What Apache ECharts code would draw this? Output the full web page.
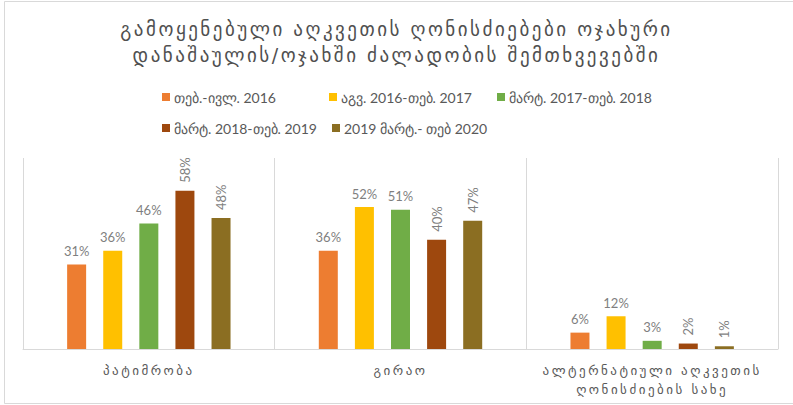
<!DOCTYPE html>
<html>
<head>
<meta charset="utf-8">
<script src="https://cdn.jsdelivr.net/npm/echarts@6/dist/echarts.min.js"></script>
<style>
  html, body { margin: 0; padding: 0; background: #fff; }
  #chart { width: 793px; height: 405px; }
  /* wider tracking for the Georgian title and category names */
  #chart svg text[style*="DejaVu"] { letter-spacing: 2.5px; }
</style>
</head>
<body>
<div id="chart"></div>
<script>
// Measures of restraint applied in domestic crime / domestic violence cases
const titleText = 'გამოყენებული აღკვეთის ღონისძიებები ოჯახური\nდანაშაულის/ოჯახში ძალადობის შემთხვევებში';
const categories = ['პატიმრობა', 'გირაო', 'ალტერნატიული აღკვეთის\nღონისძიების სახე'];
const seriesNames = [
  'თებ.-ივლ. 2016',
  'აგვ. 2016-თებ. 2017',
  'მარტ. 2017-თებ. 2018',
  'მარტ. 2018-თებ. 2019',
  '2019 მარტ.- თებ 2020'
];
const period1 = [31, 36, 6];
const period2 = [36, 52, 12];
const period3 = [46, 51, 3];
const period4 = [58, 40, 2];
const period5 = [48, 47, 1];
const seriesValues = [period1, period2, period3, period4, period5];
const colors = ['#ED7D31', '#FFC000', '#70AD47', '#9E480E', '#8B6E22'];

const latinFont = "Lato, sans-serif";
const geoFont = "'DejaVu Sans'";

const legendSlots = [
  { left: 157, top: 84 },
  { left: 324, top: 84 },
  { left: 492, top: 84 },
  { left: 157, top: 115 },
  { left: 327, top: 115 }
];

const chart = echarts.init(document.getElementById('chart'), null, { renderer: 'svg' });

const series = seriesNames.map((name, i) => {
  const rotated = i >= 3;
  return {
    name: name,
    type: 'bar',
    data: seriesValues[i],
    barWidth: 19,
    barGap: '90%',
    itemStyle: { color: colors[i] },
    label: rotated ? {
      show: true,
      position: 'top',
      rotate: 90,
      align: 'left',
      verticalAlign: 'middle',
      distance: 8,
      formatter: '{c}%',
      color: '#7f7f7f',
      fontSize: 13,
      fontFamily: latinFont
    } : {
      show: true,
      position: 'top',
      distance: 7,
      formatter: '{c}%',
      color: '#7f7f7f',
      fontSize: 13,
      fontFamily: latinFont
    }
  };
});

const legends = seriesNames.map((name, i) => ({
  data: [name],
  left: legendSlots[i].left,
  top: legendSlots[i].top,
  icon: 'rect',
  itemWidth: 8,
  itemHeight: 8,
  itemGap: 4,
  textStyle: { color: '#595959', fontSize: 14, fontFamily: latinFont, lineHeight: 16, padding: [0, 0, 0, -1] }
}));

chart.setOption({
  animation: false,
  backgroundColor: '#ffffff',
  title: {
    text: titleText,
    left: 'center',
    top: 11,
    textStyle: {
      color: '#505050',
      fontSize: 19,
      fontWeight: 'normal',
      fontFamily: geoFont,
      lineHeight: 26
    }
  },
  legend: legends,
  grid: { left: 23, right: 15, top: 158, bottom: 56, containLabel: false },
  xAxis: {
    type: 'category',
    data: categories,
    axisLine: { show: true, lineStyle: { color: '#d9d9d9', width: 1 } },
    axisTick: { show: false },
    splitLine: { show: true, lineStyle: { color: '#d9d9d9', width: 1 } },
    axisLabel: {
      color: '#595959',
      fontSize: 13,
      fontFamily: geoFont,
      margin: 12,
      lineHeight: 19,
      interval: 0
    }
  },
  yAxis: {
    type: 'value',
    min: 0,
    max: 70,
    show: false,
    splitLine: { show: false }
  },
  graphic: [{
    type: 'rect',
    shape: { x: 4.5, y: 1.5, width: 800, height: 402 },
    style: { fill: 'none', stroke: '#d9d9d9', lineWidth: 1 },
    silent: true,
    z: -1
  }],
  series: series
});
</script>
</body>
</html>
